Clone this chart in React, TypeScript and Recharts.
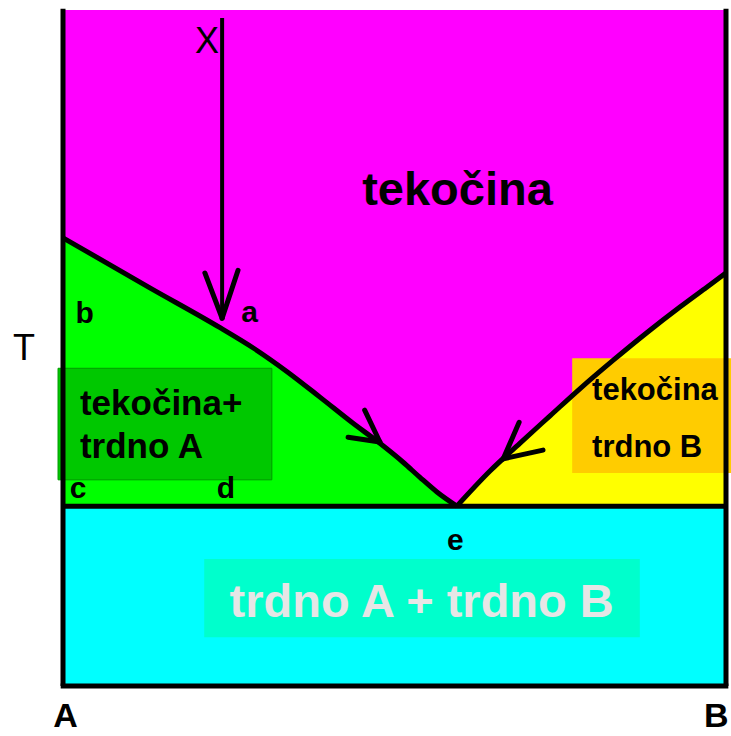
import React from 'react';
import {
  ComposedChart,
  Area,
  Line,
  XAxis,
  YAxis,
  ReferenceArea,
  ReferenceLine,
  ReferenceDot,
} from 'recharts';

// composition (% B) and temperature (% of the T range)
const liquidusA: [number, number][] = [
  [0, 66.3], [13.1, 58.9], [23.7, 53.0], [28.7, 50.0], [33.8, 46.5], [38.8, 42.7],
  [43.7, 38.9], [47.8, 35.9], [51.3, 33.1], [53.8, 30.9], [56.4, 28.7], [59.4, 26.6],
];
const liquidusB: [number, number][] = [
  [59.4, 26.6], [64.4, 31.8], [68.9, 35.9], [73.5, 40.0], [78.0, 44.0],
  [83.0, 48.2], [88.1, 52.3], [93.1, 56.1], [97.1, 59.0], [100, 61.1],
];
const EUTECTIC_T = 26.6;

// cooling path of melt X and the arrows along the liquidus
const coolingPath: [number, number][] = [[24, 98.8], [24, 54.4]];
const arrows = [
  { tip: [24, 54.4], arms: [[21.4, 61.1], [26.4, 61.5]] },
  { tip: [47.8, 36.1], arms: [[45.5, 40.8], [43.0, 36.8]] },
  { tip: [66.4, 33.6], arms: [[68.8, 39.0], [72.4, 34.9]] },
];

// point letters
const letters = ['X', 'b', 'a', 'c', 'd', 'e'];
const letterPos: [number, number][] = [[19.9, 93.6], [1.9, 53.7], [26.9, 53.9], [1.0, 27.8], [23.2, 27.8], [57.9, 20.1]];
const axisLetters = ['T', 'A', 'B'];
const axisLetterPos: [number, number][] = [[-5.9, 48.2], [0.4, -6.1], [96.7, -6.1]];

// region boxes
const boxes = [
  { lines: ['tekočina+', 'trdno A'], x1: -0.75, x2: 31.5, y1: 30.5, y2: 47.0, tx: 2.56, ty: [40.1, 33.7] },
  { lines: ['tekočina', 'trdno B'], x1: 76.8, x2: 101.4, y1: 31.5, y2: 48.5, tx: 79.8, ty: [42.3, 33.9] },
  { lines: ['trdno A + trdno B'], x1: 21.3, x2: 87.0, y1: 7.2, y2: 18.8, tx: 54.1, ty: [10.2] },
];
const boxStyle = [
  { fill: '#00c800', stroke: '#009a00', text: '#000', size: 35, anchor: 'start' },
  { fill: '#ffcc00', stroke: 'none', text: '#000', size: 31, anchor: 'start' },
  { fill: '#00ffcc', stroke: 'none', text: '#e6e6e6', size: 47, anchor: 'middle' },
];

const rows = new Map<number, { x: number; left?: number; right?: number }>();
liquidusA.forEach(([x, t]) => rows.set(x, { ...(rows.get(x) || { x }), left: t }));
liquidusB.forEach(([x, t]) => rows.set(x, { ...(rows.get(x) || { x }), right: t }));
const data = Array.from(rows.values()).sort((a, b) => a.x - b.x);

const FONT = '"Liberation Sans", Arial, sans-serif';

const textShape = (value: string, size: number, weight: string | number, fill = '#000', anchor = 'start') =>
  (p: any) => (
    <text x={p.cx} y={p.cy} fontSize={size} fontWeight={weight} fill={fill} textAnchor={anchor} fontFamily={FONT}>
      {value}
    </text>
  );

export default function App() {
  return (
    <div style={{ position: 'absolute', left: 0, top: 0, width: 731, height: 736, background: '#fff' }}>
      <ComposedChart width={731} height={736} data={data} margin={{ top: 10, right: 5, bottom: 50, left: 63 }}>
        <XAxis dataKey="x" type="number" domain={[0, 100]} hide />
        <YAxis type="number" domain={[0, 100]} hide />

        <ReferenceArea x1={0} x2={100} y1={0} y2={100} fill="#ff00ff" fillOpacity={1} stroke="none" />
        <Area dataKey="left" type="monotone" baseValue={0} fill="#00ff00" fillOpacity={1} stroke="none" isAnimationActive={false} />
        <Area dataKey="right" type="monotone" baseValue={0} fill="#ffff00" fillOpacity={1} stroke="none" isAnimationActive={false} />
        <ReferenceArea x1={0} x2={100} y1={0} y2={EUTECTIC_T} fill="#00ffff" fillOpacity={1} stroke="none" />

        <Line dataKey="left" type="monotone" stroke="#000" strokeWidth={5} dot={false} isAnimationActive={false} />
        <Line dataKey="right" type="monotone" stroke="#000" strokeWidth={5} dot={false} isAnimationActive={false} />
        <ReferenceLine y={EUTECTIC_T} stroke="#000" strokeWidth={5} />

        <ReferenceLine segment={[{ x: 0, y: 100.2 }, { x: 0, y: 0 }]} stroke="#000" strokeWidth={5} ifOverflow="visible" />
        <ReferenceLine segment={[{ x: 100, y: 100.2 }, { x: 100, y: 0 }]} stroke="#000" strokeWidth={5} ifOverflow="visible" />
        <ReferenceLine segment={[{ x: -0.35, y: 0 }, { x: 100.35, y: 0 }]} stroke="#000" strokeWidth={5} ifOverflow="visible" />

        <ReferenceLine
          segment={[{ x: coolingPath[0][0], y: coolingPath[0][1] }, { x: coolingPath[1][0], y: coolingPath[1][1] }]}
          stroke="#000"
          strokeWidth={4}
          ifOverflow="visible"
        />
        {arrows.flatMap((a, i) =>
          a.arms.map((arm, j) => (
            <ReferenceLine
              key={`arr-${i}-${j}`}
              segment={[{ x: arm[0], y: arm[1] }, { x: a.tip[0], y: a.tip[1] }]}
              stroke="#000"
              strokeWidth={5}
              strokeLinecap="round"
              ifOverflow="visible"
            />
          )),
        )}

        {letters.map((l, i) => (
          <ReferenceDot
            key={`l-${l}`}
            x={letterPos[i][0]}
            y={letterPos[i][1]}
            r={1}
            ifOverflow="visible"
            shape={textShape(l, l === 'X' ? 36 : 30, l === 'X' ? 'normal' : 'bold')}
          />
        ))}
        {axisLetters.map((l, i) => (
          <ReferenceDot
            key={`ax-${l}`}
            x={axisLetterPos[i][0]}
            y={axisLetterPos[i][1]}
            r={1}
            ifOverflow="visible"
            shape={textShape(l, l === 'T' ? 36 : 34, l === 'T' ? 'normal' : 'bold', '#000', l === 'B' ? 'start' : 'middle')}
          />
        ))}

        <ReferenceDot x={59.5} y={71.1} r={1} ifOverflow="visible" shape={textShape('tekočina', 47, 'bold', '#000', 'middle')} />

        {boxes.map((b, i) => (
          <ReferenceArea
            key={`box-${i}`}
            x1={b.x1}
            x2={b.x2}
            y1={b.y1}
            y2={b.y2}
            fill={boxStyle[i].fill}
            fillOpacity={1}
            stroke={boxStyle[i].stroke}
            strokeWidth={1}
            ifOverflow="visible"
          />
        ))}
        {boxes.flatMap((b, i) =>
          b.lines.map((line, j) => (
            <ReferenceDot
              key={`bt-${i}-${j}`}
              x={b.tx}
              y={b.ty[j]}
              r={1}
              ifOverflow="visible"
              shape={textShape(line, boxStyle[i].size, 'bold', boxStyle[i].text, boxStyle[i].anchor)}
            />
          )),
        )}
      </ComposedChart>
    </div>
  );
}
